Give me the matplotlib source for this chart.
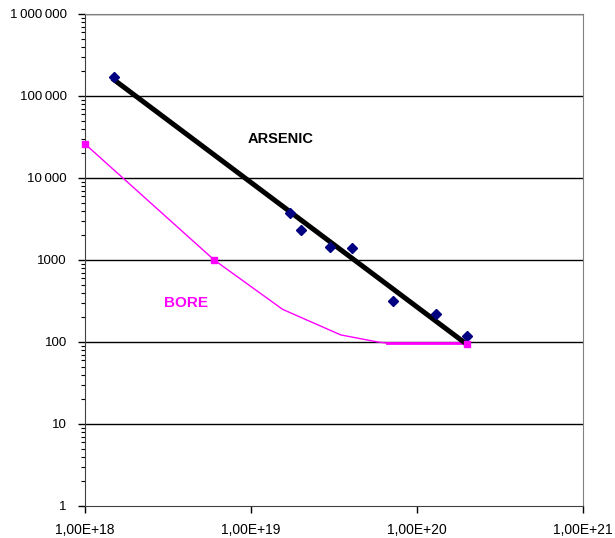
import matplotlib.pyplot as plt
from matplotlib.ticker import FixedLocator, LogLocator, NullFormatter

plt.rcParams['font.family'] = ['Liberation Sans', 'DejaVu Sans']

# ARSENIC measured points (navy diamonds)
arsenic_x = [1.5e18, 1.71e19, 1.99e19, 2.99e19, 4.07e19, 7.2e19, 1.30e20, 2.0e20]
arsenic_y = [170000, 3780, 2320, 1430, 1420, 316, 219, 118]

# ARSENIC fitted line (thick black)
fit_x = [1.5e18, 1.95e20]
fit_y = [157000, 97]

# BORE curve (magenta)
bore_x = [1e18, 6e18, 1.55e19, 3.47e19, 5.8e19, 6.6e19, 2.0e20]
bore_y = [26000, 1000, 250, 122, 100, 97, 97]
bore_mark_x = [1e18, 6e18, 2.0e20]
bore_mark_y = [26000, 1000, 95]

y_ticks = [1, 10, 100, 1000, 10000, 100000, 1000000]
y_labels = ["1", "10", "100", "1000", "10\u2009000", "100\u2009000", "1\u2009000\u2009000"]
x_ticks = [1e18, 1e19, 1e20, 1e21]
x_labels = ["1,00E+18", "1,00E+19", "1,00E+20", "1,00E+21"]

fig = plt.figure(figsize=(6.15, 5.38), dpi=100)
ax = fig.add_axes([0.1382, 0.0595, 0.8098, 0.9145])
ax.set_xscale('log')
ax.set_yscale('log')
ax.set_xlim(1e18, 1e21)
ax.set_ylim(1, 1e6)

for yv in y_ticks[1:]:
    ax.axhline(yv, color='black', lw=1, zorder=1)

ax.plot(bore_x, bore_y, color='#FF00FF', lw=1, zorder=2)
ax.plot(bore_x[-2:], bore_y[-2:], color='#FF00FF', lw=2, zorder=2)
ax.plot(fit_x, fit_y, color='black', lw=3.6, zorder=3)
ax.plot(arsenic_x, arsenic_y, linestyle='none', marker='D', ms=5,
        color='#000080', zorder=4, clip_on=False)
ax.plot(bore_mark_x, bore_mark_y, linestyle='none', marker='s', ms=5,
        color='#FF00FF', zorder=5, clip_on=False)

ax.text(1.51e19, 30000, "ARSENIC", fontsize=10.5, fontweight='bold',
        ha='center', va='center', color='black')
ax.text(4.05e18, 300, "BORE", fontsize=11, fontweight='bold',
        ha='center', va='center', color='#FF00FF')

ax.yaxis.set_major_locator(FixedLocator(y_ticks))
ax.set_yticklabels(y_labels)
ax.yaxis.set_minor_locator(LogLocator(base=10, subs=range(2, 10)))
ax.yaxis.set_minor_formatter(NullFormatter())
ax.xaxis.set_major_locator(FixedLocator(x_ticks))
ax.set_xticklabels(x_labels)
ax.xaxis.set_minor_locator(FixedLocator([]))

ax.tick_params(axis='y', which='major', length=5, width=1, pad=8, labelsize=9.5)
ax.tick_params(axis='y', which='minor', length=3, width=0.8)
ax.tick_params(axis='x', which='major', length=5, width=1, pad=7, labelsize=10)

for s in ['left', 'bottom']:
    ax.spines[s].set_color('#404040')
for s in ['top', 'right']:
    ax.spines[s].set_color('#808080')

fig.savefig('out.png', dpi=100)
